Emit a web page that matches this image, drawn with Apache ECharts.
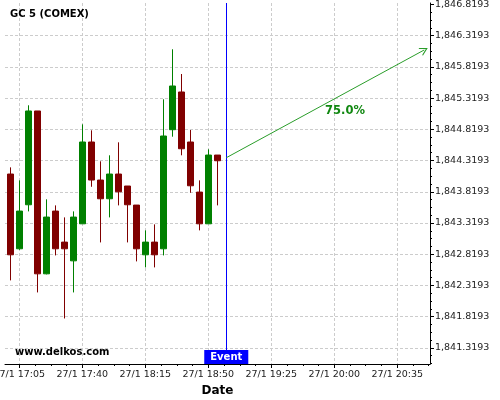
<!DOCTYPE html>
<html>
<head>
<meta charset="utf-8">
<script src="https://cdn.jsdelivr.net/npm/echarts@6/dist/echarts.min.js"></script>
<style>
html, body { margin: 0; padding: 0; background: #fff; }
#chart { width: 500px; height: 400px; }
</style>
</head>
<body>
<div id="chart"></div>
<script>
// 5 minute candles, 27/1
var times  = ['17:00','17:05','17:10','17:15','17:20','17:25','17:30','17:35','17:40','17:45','17:50','17:55',
              '18:00','18:05','18:10','18:15','18:20','18:25','18:30','18:35','18:40','18:45','18:50','18:55'];
var opens  = [1844.103,1842.906,1843.611,1845.113,1842.505,1843.510,1843.013,1842.713,1843.306,1844.616,1844.007,1843.707,
              1844.103,1843.911,1843.606,1842.810,1843.013,1842.906,1844.813,1845.417,1844.616,1843.814,1843.306,1844.407];
var closes = [1842.810,1843.510,1845.113,1842.505,1843.414,1842.906,1842.906,1843.414,1844.616,1844.007,1843.707,1844.103,
              1843.819,1843.611,1842.906,1843.013,1842.810,1844.712,1845.513,1844.508,1843.915,1843.306,1844.407,1844.316];
var lows   = [1842.400,1842.890,1843.505,1842.207,1842.496,1842.800,1841.790,1842.207,1843.306,1843.899,1843.008,1843.409,
              1843.601,1843.008,1842.704,1842.608,1842.608,1842.800,1844.701,1844.403,1843.803,1843.201,1843.306,1843.601];
var highs  = [1844.210,1844.002,1845.204,1845.113,1843.698,1843.601,1843.409,1843.505,1844.899,1844.803,1844.307,1844.403,
              1844.611,1843.911,1843.606,1843.201,1843.297,1845.300,1846.101,1845.705,1844.808,1844.002,1844.499,1844.407];

var xTickLabels = ['17:05','17:40','18:15','18:50','19:25','20:00','20:35'];
var yTicks = [1841.3193,1841.8193,1842.3193,1842.8193,1843.3193,1843.8193,
              1844.3193,1844.8193,1845.3193,1845.8193,1846.3193,1846.8193];

var eventTime = '19:00';
var arrowFrom = ['19:00', 1844.364];
var arrowTo   = ['20:50', 1846.090];
var arrowText = '75.0%';
var arrowTextAt = ['20:06', 1845.117];

function toMin(s) {
  var p = s.split(':');
  return +p[0] * 60 + +p[1];
}
function pad(n) { return (n < 10 ? '0' : '') + n; }
function fmtTime(v) {
  var m = Math.round(v);
  return '27/1 ' + pad(Math.floor(m / 60)) + ':' + pad(m % 60);
}
function fmtPrice(v) {
  return v.toFixed(4).replace(/^(\d)(\d{3})/, '$1,$2');
}

var xMin = 1017.06, xMax = 1253.2;
var yMin = 1841.061, yMax = 1846.842;

var xMajor = xTickLabels.map(toMin);
var xMinor = [];
for (var t = xMajor[0]; t <= xMax; t += 8.75) xMinor.push(t);
var yMinor = [];
for (var y = yTicks[0] - 0.25; y <= yMax; y += 0.125) if (y >= yMin) yMinor.push(y);

var candles = times.map(function (s, i) {
  return [toMin(s), opens[i], closes[i], lows[i], highs[i]];
});

var font = 'DejaVu Sans';

var myChart = echarts.init(document.getElementById('chart'));
myChart.setOption({
  animation: false,
  title: {
    text: 'GC 5 (COMEX)', left: 10, top: 9, padding: 0,
    textStyle: { fontFamily: font, fontSize: 10, fontWeight: 'bold', color: '#000' }
  },
  graphic: [{
    type: 'text', left: 15, top: 347, z: 100,
    style: { text: 'www.delkos.com', fontFamily: font, fontSize: 10, fontWeight: 'bold', fill: '#000' }
  }],
  grid: { left: 5, right: 70, top: 3, bottom: 36, containLabel: false, outerBoundsMode: 'none' },
  xAxis: [
    {
      type: 'value', min: xMin, max: xMax,
      name: 'Date', nameLocation: 'middle', nameGap: 19,
      nameTextStyle: { fontFamily: font, fontSize: 12, fontWeight: 'bold', color: '#000' },
      axisLine: { show: true, onZero: false, lineStyle: { color: '#000', width: 1 } },
      axisTick: { show: true, length: 4, customValues: xMajor, lineStyle: { color: '#000' } },
      axisLabel: { customValues: xMajor, formatter: fmtTime, margin: 6, fontFamily: font, fontSize: 9.5, color: '#222' },
      splitLine: { show: true, lineStyle: { color: '#cccccc', type: [3, 2] } }
    },
    {
      type: 'value', min: xMin, max: xMax, position: 'bottom',
      axisLine: { show: false },
      axisTick: { show: true, length: 2, customValues: xMinor, lineStyle: { color: '#000' } },
      axisLabel: { show: false },
      splitLine: { show: false }
    }
  ],
  yAxis: [
    {
      type: 'value', min: yMin, max: yMax, position: 'right',
      axisLine: { show: true, onZero: false, lineStyle: { color: '#000', width: 1 } },
      axisTick: { show: true, length: 4, customValues: yTicks, lineStyle: { color: '#000' } },
      axisLabel: { customValues: yTicks, formatter: fmtPrice, margin: 5, fontFamily: font, fontSize: 9.5, color: '#222' },
      splitLine: { show: false }
    },
    {
      type: 'value', min: yMin, max: yMax, position: 'right',
      axisLine: { show: false },
      axisTick: { show: true, length: 2, customValues: yMinor, lineStyle: { color: '#000' } },
      axisLabel: { show: false },
      splitLine: { show: false }
    },
    {
      type: 'value', min: yMin, max: yMax, position: 'right',
      axisLine: { show: false },
      axisTick: { show: false, customValues: yTicks.slice(0, -1) },
      axisLabel: { show: false },
      splitLine: { show: true, lineStyle: { color: '#cccccc', type: [3, 2] } }
    }
  ],
  series: [
    {
      type: 'candlestick',
      data: candles,
      barWidth: 6,
      itemStyle: {
        color: '#008000', color0: '#800000',
        borderColor: '#008000', borderColor0: '#800000', borderWidth: 1
      },
      markLine: {
        silent: true, symbol: ['none', 'none'],
        label: { show: false },
        lineStyle: { color: '#0000ff', width: 1, type: 'solid', opacity: 1 },
        data: [{ xAxis: toMin(eventTime), lineStyle: { color: '#0000ff' } }]
      }
    },
    {
      type: 'scatter',
      clip: false,
      symbolSize: 0,
      itemStyle: { opacity: 1 },
      data: [[toMin(eventTime), yMin]],
      label: {
        show: true, position: 'top', distance: 0, formatter: 'Event',
        fontFamily: font, fontSize: 10, fontWeight: 'bold', color: '#fff',
        backgroundColor: '#0000ff', padding: [1, 6, 1, 6], lineHeight: 12
      },
      z: 5
    },
    {
      type: 'scatter',
      clip: false,
      symbolSize: 0,
      itemStyle: { opacity: 1 },
      data: [[toMin(arrowTextAt[0]), arrowTextAt[1]]],
      label: {
        show: true, position: 'inside', formatter: arrowText,
        fontFamily: font, fontSize: 11.5, fontWeight: 'bold', color: '#118811'
      },
      markLine: {
        silent: true,
        symbol: ['none', 'path://M5,0 L10,10 L8.6,10 L5,2.8 L1.4,10 L0,10 Z'],
        symbolSize: [9, 8],
        label: { show: false },
        lineStyle: { color: '#2a9d2a', width: 1, type: 'solid', opacity: 1 },
        data: [[
          { coord: [toMin(arrowFrom[0]), arrowFrom[1]] },
          { coord: [toMin(arrowTo[0]), arrowTo[1]] }
        ]]
      },
      z: 5
    }
  ]
});
</script>
</body>
</html>
